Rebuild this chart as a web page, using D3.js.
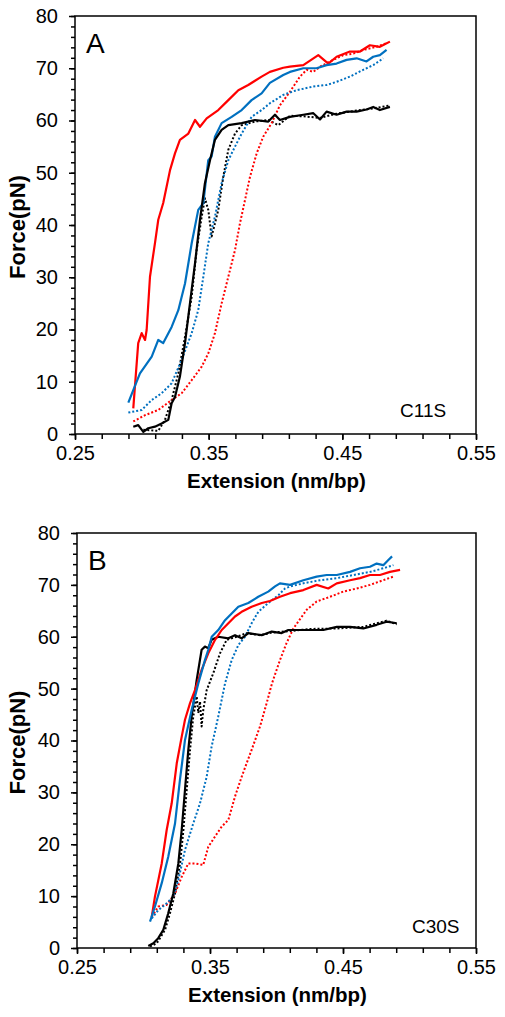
<!DOCTYPE html>
<html>
<head>
<meta charset="utf-8">
<script src="https://cdn.jsdelivr.net/npm/d3@7"></script>
<style>
  html, body { margin: 0; padding: 0; background: #fff; }
  svg { display: block; font-family: "Liberation Sans", Arial, sans-serif; }
</style>
</head>
<body>
<svg id="chart" width="505" height="1017"></svg>
<script>
// ---- tick values / labels ----
const xTicks = [0.25, 0.35, 0.45, 0.55];
const yTicks = [0, 10, 20, 30, 40, 50, 60, 70, 80];
const xTitle = "Extension (nm/bp)";
const yTitle = "Force(pN)";

// ---- Panel A (C11S) series: [extension nm/bp, force pN] ----
const A_redSolid = [[0.2936,4.9],[0.2973,17.4],[0.2999,19.3],[0.3024,18],[0.3036,19.9],[0.3061,30.1],[0.3098,36.5],[0.3123,41],[0.316,44.2],[0.3211,50.5],[0.3248,53.7],[0.3285,56.3],[0.3348,57.5],[0.3398,60.1],[0.3435,58.8],[0.3485,60.4],[0.3572,62],[0.3647,63.9],[0.3722,65.8],[0.3796,66.8],[0.3896,68.4],[0.3958,69.3],[0.4058,70.1],[0.4108,70.3],[0.4208,70.6],[0.432,72.5],[0.4395,70.9],[0.4457,72.2],[0.4557,73.2],[0.4632,73.2],[0.4706,74.4],[0.4781,74.1],[0.4856,75.1]];
const A_blueSolid = [[0.2899,6.0],[0.2936,8.4],[0.2986,11.6],[0.3074,14.8],[0.3123,18],[0.316,17.4],[0.3223,20.5],[0.3273,23.7],[0.3323,28.8],[0.3373,36.5],[0.3422,42.9],[0.346,44.2],[0.3497,52.4],[0.3522,53.1],[0.3547,56.9],[0.3597,59.5],[0.3672,60.7],[0.3747,62],[0.3821,63.9],[0.3896,65.2],[0.3958,67.2],[0.4058,68.7],[0.4108,69.3],[0.4208,70],[0.4307,70],[0.4382,70.6],[0.4457,70.9],[0.4532,71.6],[0.4607,71.9],[0.4681,71.3],[0.4731,72.2],[0.4781,72.5],[0.4831,73.5]];
const A_blackSolid = [[0.2936,1.4],[0.2973,1.7],[0.3011,0.4],[0.3048,1.1],[0.3098,1.4],[0.3148,2.0],[0.3198,2.7],[0.3223,5.9],[0.3248,7.1],[0.3285,11],[0.3323,17.4],[0.336,25],[0.3398,32.7],[0.3435,41],[0.3472,48],[0.351,52.4],[0.3547,56.3],[0.3597,58.2],[0.3647,59.1],[0.3747,59.5],[0.3846,60.1],[0.3946,59.8],[0.3996,61.1],[0.4033,60.1],[0.4108,60.7],[0.4208,61.1],[0.4283,61.4],[0.4333,60.2],[0.4382,61.7],[0.4457,61.1],[0.4532,61.7],[0.4607,61.7],[0.4681,62.1],[0.4731,62.6],[0.4781,62],[0.4856,62.6]];
const A_blueDotted = [[0.2899,4.1],[0.2999,4.6],[0.3074,6.5],[0.3148,7.8],[0.3223,9.7],[0.3298,14.2],[0.3373,19.3],[0.3422,23.7],[0.346,30.1],[0.3497,36.5],[0.3547,41.6],[0.3597,48],[0.3647,52.4],[0.3697,55],[0.3747,57.5],[0.3821,60.7],[0.3896,62],[0.3958,63.3],[0.4058,64.9],[0.4158,65.8],[0.4283,66.5],[0.4382,66.8],[0.4457,67.4],[0.4557,68.4],[0.4656,69.7],[0.4731,70.6],[0.4806,71.9]];
const A_redDotted = [[0.2936,2.4],[0.3024,3.6],[0.3123,4.6],[0.3223,6.5],[0.3298,7.8],[0.3373,10.3],[0.3448,12.9],[0.3497,15.4],[0.3547,19.3],[0.3597,25],[0.3647,30.1],[0.3697,35.2],[0.3734,40.3],[0.3772,44.8],[0.3809,49.2],[0.3859,53.7],[0.3908,56.9],[0.3971,59.5],[0.4033,62.9],[0.4108,65.5],[0.4183,68.4],[0.4233,69.7],[0.4283,69.3],[0.4333,70.3],[0.4407,71.3],[0.4507,72.5],[0.4582,72.8],[0.4656,73.5],[0.4756,74.1],[0.4831,74.8]];
const A_blackDotted = [[0.3011,0.8],[0.3123,0.6],[0.3173,2.7],[0.3223,6.5],[0.3273,11.6],[0.3323,18.6],[0.3373,26.3],[0.341,35.2],[0.3448,41.6],[0.3472,45.1],[0.3497,42.9],[0.3522,37.8],[0.3547,40.3],[0.3572,42.9],[0.3609,49.2],[0.3647,54.4],[0.3697,57.5],[0.3747,59.1],[0.3846,59.8],[0.3946,60.1],[0.4021,59.1],[0.4108,60.9],[0.4208,60.8],[0.4333,60.5],[0.4457,61.3],[0.4607,61.9],[0.4731,62.3],[0.4856,62.9]];

// ---- Panel B (C30S) series ----
const B_redSolid = [[0.3062,6.0],[0.3086,9.9],[0.3137,16.3],[0.3174,22.7],[0.3212,27.9],[0.325,35.6],[0.3287,40.7],[0.3312,44],[0.335,47.2],[0.3387,49.7],[0.3437,53.6],[0.3487,56.8],[0.3538,59.4],[0.3588,61.3],[0.3638,62.6],[0.3688,63.9],[0.3738,64.8],[0.3813,65.8],[0.3889,66.5],[0.3951,66.9],[0.4026,67.7],[0.4102,68.4],[0.4202,69],[0.4302,70],[0.4389,69.3],[0.4453,70.3],[0.4553,70.9],[0.4628,71.3],[0.4703,71.9],[0.4778,71.9],[0.4853,72.5],[0.4929,72.9]];
const B_blueSolid = [[0.3049,5.1],[0.3086,8],[0.3137,12.5],[0.3186,17.6],[0.3237,24],[0.3274,32.4],[0.3312,40.1],[0.3362,45.9],[0.3412,51],[0.3462,55.5],[0.3487,57.5],[0.3513,60],[0.3562,61.3],[0.3613,63.2],[0.3663,64.5],[0.3713,65.8],[0.3788,66.5],[0.3863,67.7],[0.3938,68.7],[0.3989,69.7],[0.4026,70.3],[0.4102,70],[0.4202,70.9],[0.4302,71.6],[0.4377,71.9],[0.4453,71.9],[0.4553,72.5],[0.4628,73.2],[0.4703,73.5],[0.4753,74.1],[0.4803,73.8],[0.4841,74.8],[0.4869,75.5]];
const B_blackSolid = [[0.3036,0.4],[0.3074,0.9],[0.3111,1.9],[0.3149,3.5],[0.3186,6.7],[0.3224,10.5],[0.3262,16.3],[0.3287,22.7],[0.3312,30.5],[0.3337,38.2],[0.3362,44.6],[0.34,51.7],[0.3437,57.5],[0.3462,58.1],[0.3487,57.8],[0.3512,59.4],[0.3562,60],[0.3638,59.7],[0.3688,60.3],[0.3738,59.7],[0.3788,60.7],[0.3889,60.3],[0.3964,61],[0.4039,60.7],[0.4089,61.3],[0.4152,61.3],[0.4252,61.3],[0.4352,61.3],[0.4453,61.9],[0.4553,61.9],[0.4653,61.6],[0.4753,62.3],[0.4828,62.9],[0.4904,62.6]];
const B_blueDotted = [[0.3062,5.7],[0.3111,7.3],[0.3174,8.6],[0.3224,9.9],[0.3262,13.1],[0.3312,18.9],[0.3374,24],[0.3425,27.9],[0.3475,33],[0.3512,38.8],[0.3562,44.6],[0.3613,51],[0.3663,55.5],[0.3713,58.4],[0.3763,60],[0.3813,62.6],[0.3863,64.8],[0.3938,66.5],[0.4014,68],[0.4064,69.3],[0.4102,69.7],[0.4202,70.3],[0.4327,70.9],[0.4453,71.3],[0.4578,71.9],[0.4703,72.5],[0.4803,73.2],[0.4879,73.8]];
const B_redDotted = [[0.3062,6],[0.3111,8],[0.3174,8.3],[0.3237,10.5],[0.3287,13.7],[0.3337,16.3],[0.3387,16.3],[0.3449,16],[0.3487,19.5],[0.3538,21.5],[0.3588,23.4],[0.3638,24.7],[0.3688,29.2],[0.3738,33],[0.3813,38.2],[0.3876,42.7],[0.3926,47.2],[0.3966,51],[0.4026,55.5],[0.4076,58.8],[0.4127,61.6],[0.4227,65.2],[0.4302,66.8],[0.4402,67.7],[0.4502,68.7],[0.4603,69.3],[0.4703,70],[0.4803,70.9],[0.4879,71.6]];
const B_blackDotted = [[0.3049,0.3],[0.3099,0.9],[0.3124,1.9],[0.3162,3.5],[0.3199,6.7],[0.3237,10.5],[0.3275,16.3],[0.33,22.7],[0.3325,30.5],[0.335,38.2],[0.3374,44.6],[0.34,48.5],[0.3412,45.3],[0.3425,47.5],[0.3437,42.7],[0.345,46],[0.3475,49.7],[0.3525,53],[0.3575,56.8],[0.3625,59.4],[0.37,60],[0.3776,60.7],[0.3876,60.3],[0.3964,60.8],[0.4102,61.1],[0.4252,61.5],[0.4453,61.6],[0.4653,61.9],[0.4828,63.1],[0.4904,62.4]];

const RED = "#ff0000", BLUE = "#0070c0", BLACK = "#000000";

const panels = [
  { letter: "A", name: "C11S", xr: [75, 476], yr: [434, 16], nameX: 400, nameY: 417,
    series: [
      { d: A_blackDotted, c: BLACK, dot: true },
      { d: A_redDotted, c: RED, dot: true },
      { d: A_blueDotted, c: BLUE, dot: true },
      { d: A_redSolid, c: RED },
      { d: A_blueSolid, c: BLUE },
      { d: A_blackSolid, c: BLACK }
    ] },
  { letter: "B", name: "C30S", xr: [77, 476], yr: [948, 533], nameX: 412, nameY: 933,
    series: [
      { d: B_blackDotted, c: BLACK, dot: true },
      { d: B_redDotted, c: RED, dot: true },
      { d: B_blueDotted, c: BLUE, dot: true },
      { d: B_blackSolid, c: BLACK },
      { d: B_redSolid, c: RED },
      { d: B_blueSolid, c: BLUE }
    ] }
];

const svg = d3.select("#chart");
svg.append("rect").attr("width", 505).attr("height", 1017).attr("fill", "#fff");

panels.forEach(p => {
  const x = d3.scaleLinear().domain([0.25, 0.55]).range(p.xr);
  const y = d3.scaleLinear().domain([0, 80]).range(p.yr);
  const g = svg.append("g");

  // frame
  g.append("rect")
    .attr("x", p.xr[0]).attr("y", p.yr[1])
    .attr("width", p.xr[1] - p.xr[0]).attr("height", p.yr[0] - p.yr[1])
    .attr("fill", "none").attr("stroke", "#000").attr("stroke-width", 1.5);

  // minor ticks
  const xMinor = d3.range(0.25, 0.5501, 0.02).map(v => +v.toFixed(3));
  const yMinor = d3.range(0, 80.01, 2);
  g.append("g").attr("transform", `translate(0,${p.yr[0]})`)
    .call(d3.axisBottom(x).tickValues(xMinor).tickSize(5).tickFormat(""))
    .call(a => a.select(".domain").remove())
    .selectAll("line").attr("stroke-width", 1.5);
  g.append("g").attr("transform", `translate(${p.xr[0]},0)`)
    .call(d3.axisLeft(y).tickValues(yMinor).tickSize(4).tickFormat(""))
    .call(a => a.select(".domain").remove())
    .selectAll("line").attr("stroke-width", 1.5);

  // major ticks
  const xa = g.append("g").attr("transform", `translate(0,${p.yr[0]})`)
    .call(d3.axisBottom(x).tickValues(xTicks).tickSize(6).tickPadding(6).tickFormat(d3.format(".2f")));
  xa.select(".domain").remove();
  xa.selectAll("line").attr("stroke-width", 1.5);
  xa.selectAll("text").attr("font-size", 20).attr("font-family", "Liberation Sans, Arial, sans-serif").attr("fill", "#000");

  const ya = g.append("g").attr("transform", `translate(${p.xr[0]},0)`)
    .call(d3.axisLeft(y).tickValues(yTicks).tickSize(6).tickPadding(11));
  ya.select(".domain").remove();
  ya.selectAll("line").attr("stroke-width", 1.5);
  ya.selectAll("text").attr("font-size", 20).attr("font-family", "Liberation Sans, Arial, sans-serif").attr("fill", "#000");

  // series
  const line = d3.line().x(d => x(d[0])).y(d => y(d[1]));
  p.series.forEach(s => {
    g.append("path").datum(s.d)
      .attr("d", line)
      .attr("fill", "none")
      .attr("stroke", s.c)
      .attr("stroke-width", s.dot ? 2 : 2.2)
      .attr("stroke-dasharray", s.dot ? "2,2" : null)
      .attr("stroke-linejoin", "round");
  });

  // texts
  g.append("text").attr("x", p.xr[0] + 11).attr("y", p.yr[1] + 37)
    .attr("font-size", 28).text(p.letter);
  g.append("text").attr("x", p.nameX).attr("y", p.nameY)
    .attr("font-size", 19).text(p.name);
  g.append("text").attr("x", (p.xr[0] + p.xr[1]) / 2 + 1).attr("y", p.yr[0] + 54)
    .attr("text-anchor", "middle").attr("font-size", 20.5).attr("font-weight", "bold").text(xTitle);
  const cy = (p.yr[0] + p.yr[1]) / 2;
  g.append("text").attr("transform", `translate(25,${cy + 2}) rotate(-90)`)
    .attr("text-anchor", "middle").attr("font-size", 22).attr("font-weight", "bold").text(yTitle);
});
</script>
</body>
</html>
